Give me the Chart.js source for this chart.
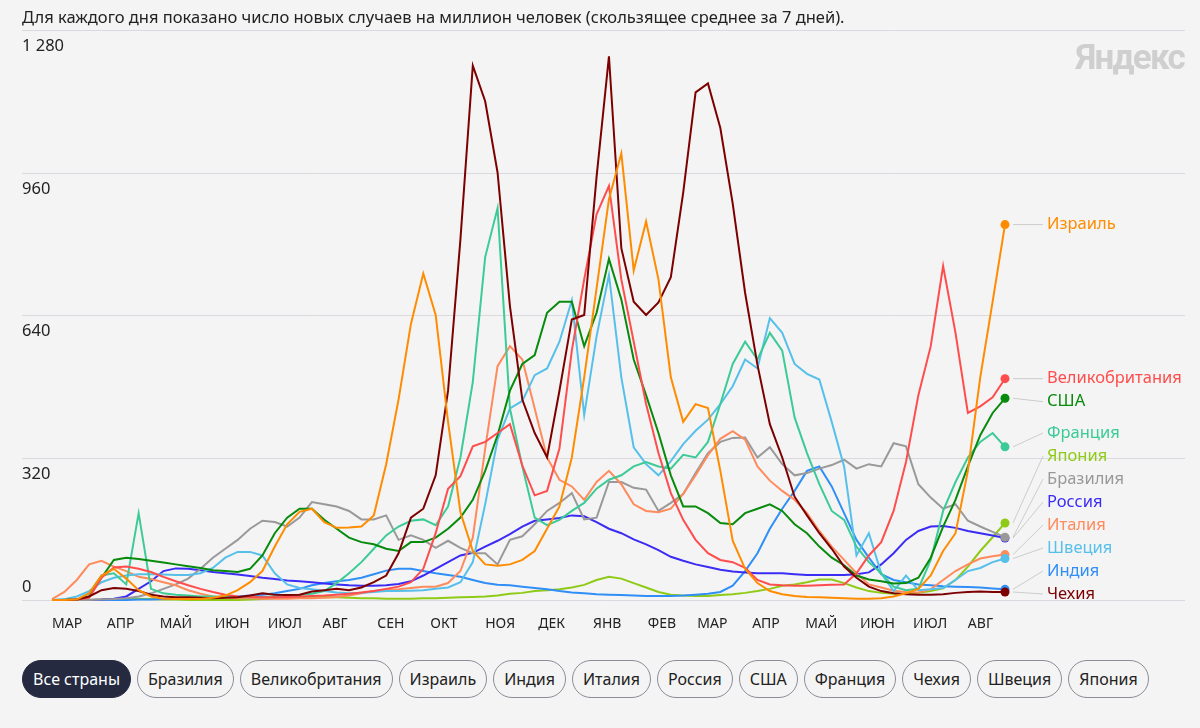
<!DOCTYPE html>
<html lang="ru">
<head>
<meta charset="utf-8">
<title>Новые случаи на миллион человек</title>
<script src="https://cdn.jsdelivr.net/npm/chart.js@4.4.1/dist/chart.umd.min.js"></script>
<style>
  body { margin: 0; background: #f4f4f4; font-family: 'Noto Sans', sans-serif; color: #222; }
  .wrap { position: relative; width: 1200px; height: 728px; overflow: hidden; }
  .title { position: absolute; left: 22px; top: 5px; font-size: 16.5px; white-space: nowrap; }
  .logo { position: absolute; right: 16px; top: 37px; font: bold 35px Roboto, sans-serif; color: #cfcfcf; letter-spacing: -1.8px; }
  canvas { position: absolute; left: 0; top: 0; }
  .buttons { position: absolute; left: 22px; top: 660px; display: flex; gap: 6px; }
  .buttons button { height: 38px; padding: 0 10px; border: 1.5px solid #8c8c99; border-radius: 19px;
    background: transparent; font: 16px 'Noto Sans', sans-serif; color: #222; }
  .buttons button.active { background: #252a41; border-color: #252a41; color: #fff; }
</style>
</head>
<body>
<div class="wrap">
  <canvas id="myChart" width="1200" height="640"></canvas>
  <div class="title">Для каждого дня показано число новых случаев на миллион человек (скользящее среднее за 7 дней).</div>
  <div class="logo">Яндекс</div>
  <div class="buttons" id="buttons"></div>
</div>
<script>
// days since 1 March 2020, one point a week
const days = [0,7,14,21,28,35,42,49,56,63,70,77,84,91,98,105,112,119,126,133,140,147,154,161,168,175,182,189,196,203,
  210,217,224,231,238,245,252,259,266,273,280,287,294,301,308,315,322,329,336,343,350,357,364,371,378,385,392,399,406,413,
  420,427,434,441,448,455,462,469,476,483,490,497,504,511,518,525,532,539];

const monthDays = [0,31,61,92,122,153,184,214,245,275,306,337,365,396,426,457,487,518];
const monthLabels = ['МАР','АПР','МАЙ','ИЮН','ИЮЛ','АВГ','СЕН','ОКТ','НОЯ','ДЕК','ЯНВ','ФЕВ','МАР','АПР','МАЙ','ИЮН','ИЮЛ','АВГ'];

const yTicks = [0, 320, 640, 960, 1280];
const yTickLabels = ['0', '320', '640', '960', '1 280'];

// new cases per million, 7-day average
const israel = [0,0,1,15,55,70,48,22,8,3, 2,2,2,5,10,22,40,65,120,170, 198,205,175,162,163,165,190,305,450,620,
  733,640,400,197,110,80,77,80,90,110, 160,210,320,500,700,900,1003,740,850,720, 500,400,440,431,290,133,70,38,20,13,
  9,7,6,5,4,3,3,4,8,15, 25,55,110,150,290,500,670,843];
const czechia = [0,0,1,8,22,27,25,20,12,8, 6,6,5,4,5,6,10,15,12,11, 12,19,22,25,22,28,40,55,105,185,
  205,280,470,810,1200,1120,960,660,450,375, 320,470,630,640,950,1221,790,670,640,668, 725,915,1140,1160,1060,890,690,528,395,320,
  232,190,150,115,75,50,30,20,15,13, 12,12,13,16,18,19,18,18];
const uk = [0,0,1,5,50,73,75,70,63,52, 42,33,25,18,12,8,7,6,6,7, 8,9,10,12,14,17,20,25,30,40,
  70,150,250,278,345,355,375,395,302,235, 245,340,560,720,866,930,720,580,440,330, 240,180,135,105,90,85,72,45,35,33,
  32,32,33,34,35,60,100,130,200,310, 460,570,750,600,420,435,455,497];
const usa = [0,0,1,8,50,90,95,92,88,84, 80,76,72,67,65,63,70,100,150,185, 205,205,180,160,140,130,125,115,110,130,
  130,140,160,185,225,290,370,470,530,550, 645,670,670,570,645,766,675,540,460,375, 280,210,210,195,173,170,195,205,215,200,
  170,150,120,95,78,55,46,42,37,38, 50,95,165,225,300,370,420,453];
const france = [0,0,1,15,55,60,35,195,25,15, 12,10,8,8,7,7,6,7,8,9, 11,14,20,38,60,85,115,145,165,178,
  181,168,210,320,490,770,880,430,300,185, 168,180,200,218,250,270,280,300,310,300, 295,326,320,355,440,530,580,540,600,560,
  410,330,260,200,180,120,85,60,30,22, 25,90,200,265,320,355,375,344];
const sweden = [0,2,8,20,40,50,55,58,58,57, 56,56,60,72,95,108,108,100,60,35, 27,24,20,17,15,16,18,20,20,21,
  22,25,28,40,85,215,360,430,447,505, 520,580,673,415,592,730,500,343,305,280, 312,350,380,405,440,480,540,520,633,600,
  530,508,495,400,300,100,150,60,20,55, 22,24,27,45,65,72,85,93];
const italy = [2,18,45,80,88,75,65,52,47,40, 33,22,14,8,5,4,4,3,3,3, 4,4,5,7,10,15,20,22,24,27,
  30,30,38,65,140,340,525,570,540,430, 320,270,255,225,265,290,260,215,200,197, 205,238,280,325,362,379,360,300,268,245,
  225,195,155,120,90,60,35,28,21,18, 17,24,45,65,80,93,98,102];
const brazil = [0,0,0,0,1,2,4,8,15,25, 35,48,70,95,115,135,160,178,175,165, 185,220,215,210,200,181,181,190,135,145,
  135,117,133,117,105,105,80,135,143,170, 200,218,240,181,185,265,265,252,248,200, 218,238,285,330,355,364,365,320,343,305,
  280,285,295,303,315,295,305,300,352,345, 260,230,205,215,178,165,153,141];
const russia = [0,0,0,0,1,3,8,25,42,65, 71,70,67,63,60,57,54,50,47,44, 42,40,37,35,33,32,32,33,36,42,
  55,70,85,100,106,120,133,148,165,178, 181,184,190,188,175,160,150,136,125,112, 97,88,80,74,68,64,62,60,60,60,
  58,56,56,56,56,58,62,80,105,135, 155,165,166,162,155,150,145,139];
const india = [0,0,0,0,0,0,0,1,1,2, 2,3,4,5,6,8,10,12,15,20, 25,33,38,42,45,50,58,66,70,70,
  65,60,56,52,45,38,34,33,30,27, 24,20,17,15,13,12,11,10,9,9, 9,10,12,14,18,32,65,105,160,205,
  245,290,300,255,195,135,95,58,45,40, 35,33,31,30,29,28,26,24];
const japan = [0,0,0,0,1,2,3,3,2,1, 1,0,0,0,0,0,1,2,4,5, 5,6,7,6,5,4,4,3,3,3,
  4,4,5,6,7,8,10,14,16,20, 22,24,28,34,45,52,48,38,28,18, 12,10,9,9,11,13,16,20,25,32,
  35,40,46,46,38,28,20,16,14,14, 16,20,26,45,75,110,141,173];

const series = [
  { name: 'Израиль', color: '#ff8c00', values: israel },
  { name: 'Чехия', color: '#7d0000', values: czechia },
  { name: 'Великобритания', color: '#ff4d4d', values: uk },
  { name: 'США', color: '#088a0c', values: usa },
  { name: 'Франция', color: '#3ccb96', values: france },
  { name: 'Швеция', color: '#57c0ea', values: sweden },
  { name: 'Италия', color: '#ff8a5c', values: italy },
  { name: 'Бразилия', color: '#999999', values: brazil },
  { name: 'Россия', color: '#3b2cf5', values: russia },
  { name: 'Индия', color: '#2f8ff7', values: india },
  { name: 'Япония', color: '#8fcb16', values: japan },
];

const FONT = "'Noto Sans', sans-serif";

// grid lines and y labels run across the whole width, not just the plot
const gridPlugin = {
  id: 'gridPlugin',
  beforeDatasetsDraw(chart) {
    const ctx = chart.ctx;
    const y = chart.scales.y;
    ctx.save();
    ctx.strokeStyle = '#d9d9df';
    ctx.lineWidth = 1;
    ctx.fillStyle = '#222';
    ctx.font = '16.5px ' + FONT;
    ctx.textBaseline = 'middle';
    ctx.textAlign = 'left';
    yTicks.forEach(function(v, i) {
      const py = Math.round(y.getPixelForValue(v)) + 0.5;
      ctx.beginPath();
      ctx.moveTo(22, py);
      ctx.lineTo(1185, py);
      ctx.stroke();
      ctx.fillText(yTickLabels[i], 22, v === 0 ? py - 13 : py + 16);
    });
    ctx.restore();
  }
};

// country names at the end of each line, pushed apart so they do not overlap
const endLabels = {
  id: 'endLabels',
  afterDatasetsDraw(chart) {
    const ctx = chart.ctx;
    const gap = 23;
    const items = series.map(function(s, i) {
      const pts = chart.getDatasetMeta(i).data;
      const p = pts[pts.length - 1];
      return { s: s, x: p.x, y: p.y, ly: p.y };
    }).sort(function(a, b) { return a.y - b.y; });

    for (let i = 1; i < items.length; i++) {
      items[i].ly = Math.max(items[i].ly, items[i - 1].ly + gap);
    }
    const maxY = chart.scales.y.getPixelForValue(0) - 6;
    for (let i = items.length - 1; i >= 0; i--) {
      const lim = i === items.length - 1 ? maxY : items[i + 1].ly - gap;
      items[i].ly = Math.min(items[i].ly, lim);
    }

    ctx.save();
    ctx.font = '16.5px ' + FONT;
    ctx.textBaseline = 'middle';
    ctx.textAlign = 'left';
    for (let item of items) {
      ctx.strokeStyle = '#cccccc';
      ctx.lineWidth = 1;
      ctx.beginPath();
      ctx.moveTo(item.x + 8, item.y);
      ctx.lineTo(1043, item.ly);
      ctx.stroke();
      ctx.fillStyle = item.s.color;
      ctx.fillText(item.s.name, 1047, item.ly);
    }
    ctx.restore();
  }
};

function initChart() {
  const ctx = document.getElementById('myChart').getContext('2d');
  const last = days.length - 1;

  // eslint-disable-next-line no-undef
  new Chart(ctx, {
    type: 'line',
    data: {
      datasets: series.map(function(s) {
        return {
          label: s.name,
          data: days.map(function(d, i) { return { x: d, y: s.values[i] }; }),
          borderColor: s.color,
          backgroundColor: s.color,
          borderWidth: 2,
          tension: 0,
          clip: false,
          pointRadius: function(c) { return c.dataIndex === last ? 4.5 : 0; },
          pointBorderWidth: 0,
          pointHoverRadius: 0,
        };
      })
    },
    options: {
      responsive: false,
      animation: false,
      devicePixelRatio: 1,
      layout: { padding: { left: 52, right: 195, top: 30, bottom: 0 } },
      plugins: { legend: { display: false }, tooltip: { enabled: false } },
      events: [],
      scales: {
        x: {
          type: 'linear',
          min: days[0],
          max: days[last],
          grid: { display: false },
          border: { display: false },
          afterBuildTicks: function(scale) {
            scale.ticks = monthDays.map(function(v) { return { value: v }; });
          },
          afterFit: function(scale) { scale.height = 40; },
          ticks: {
            align: 'start',
            autoSkip: false,
            maxRotation: 0,
            padding: 8,
            color: '#222',
            font: { size: 14, family: FONT },
            callback: function(v, i) { return monthLabels[i]; }
          }
        },
        y: {
          display: false,
          min: yTicks[0],
          max: yTicks[yTicks.length - 1]
        }
      }
    },
    plugins: [gridPlugin, endLabels]
  });
}

function initButtons() {
  const box = document.getElementById('buttons');
  const names = ['Все страны'].concat(series.map(function(s) { return s.name; }).sort(function(a, b) { return a.localeCompare(b, 'ru'); }));
  names.forEach(function(n, i) {
    const b = document.createElement('button');
    b.textContent = n;
    if (i === 0) b.classList.add('active');
    box.appendChild(b);
  });
}

initButtons();
initChart();
</script>
</body>
</html>
